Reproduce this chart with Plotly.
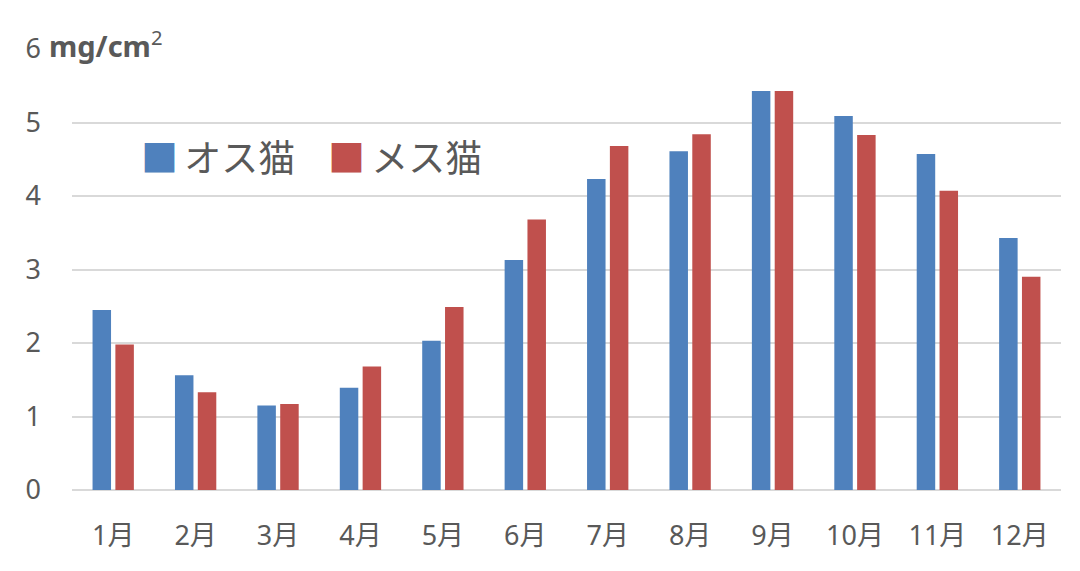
import plotly.graph_objects as go

months = ["1月", "2月", "3月", "4月", "5月", "6月", "7月", "8月", "9月", "10月", "11月", "12月"]
male = [2.45, 1.56, 1.15, 1.39, 2.03, 3.13, 4.23, 4.61, 5.43, 5.09, 4.57, 3.43]
female = [1.98, 1.33, 1.17, 1.68, 2.49, 3.68, 4.68, 4.84, 5.43, 4.83, 4.07, 2.90]
series_names = ["オス猫", "メス猫"]
y_ticks = [0, 1, 2, 3, 4, 5, 6]
y_ticktext = ["0", "1", "2", "3", "4", "5", "6"]
unit_label = "mg/cm"
unit_sup = "2"

BLUE = "#4F81BD"
RED = "#C0504D"
TXT = "#595959"
GRID = "#D9D9D9"
FONT = "Noto Sans, Noto Sans CJK JP"

fig = go.Figure()
fig.add_trace(go.Bar(x=months, y=male, name=series_names[0], marker=dict(color=BLUE, line=dict(width=0))))
fig.add_trace(go.Bar(x=months, y=female, name=series_names[1], marker=dict(color=RED, line=dict(width=0))))

# page body has an 8px margin; compensate
fig.update_layout(
    width=1080, height=571,
    margin=dict(l=64, r=27, t=41, b=89),
    paper_bgcolor="white", plot_bgcolor="white",
    barmode="group", bargap=0.446, bargroupgap=0.19,
    showlegend=False,
    font=dict(family=FONT, color=TXT, size=26),
)
fig.update_xaxes(
    automargin=False,
    showgrid=False, zeroline=False, showline=False, ticks="",
    tickfont=dict(family=FONT, size=27, color=TXT),
    ticklabelstandoff=27,
)
fig.update_yaxes(
    automargin=False,
    range=[0, 6], tickmode="array", tickvals=y_ticks, ticktext=y_ticktext,
    showgrid=True, gridcolor=GRID, gridwidth=2,
    zeroline=True, zerolinecolor=GRID, zerolinewidth=2,
    showline=False, ticks="",
    tickfont=dict(family=FONT, size=27, color=TXT),
    ticklabelstandoff=30,
)

# unit label next to top tick
fig.add_annotation(
    xref="paper", yref="y", x=-0.025, y=6, xanchor="left", yanchor="middle",
    text="<b>%s</b><sup>%s</sup>" % (unit_label, unit_sup),
    showarrow=False, bgcolor="white",
    font=dict(family=FONT, size=29, color=TXT), yshift=5,
)

# legend
fig.add_annotation(
    xref="paper", yref="paper", x=0.068, y=0.755, xanchor="left", yanchor="middle",
    text="<span style='color:%s'>■</span>\u2009%s" % (BLUE, series_names[0]),
    showarrow=False, font=dict(family=FONT, size=37, color=TXT),
)
fig.add_annotation(
    xref="paper", yref="paper", x=0.257, y=0.755, xanchor="left", yanchor="middle",
    text="<span style='color:%s'>■</span>\u2009%s" % (RED, series_names[1]),
    showarrow=False, font=dict(family=FONT, size=37, color=TXT),
)

fig.write_html("out.html")
